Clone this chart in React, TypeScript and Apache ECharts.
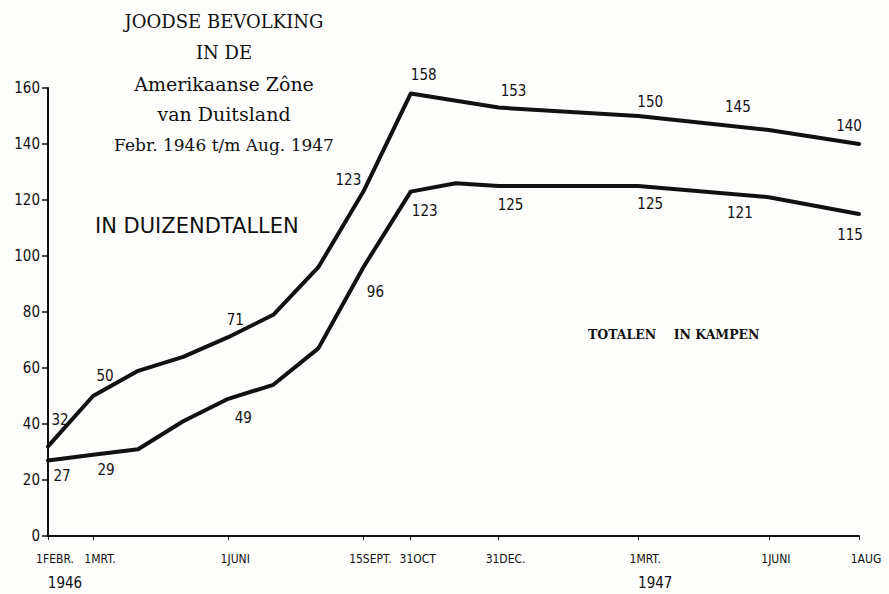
import React, { useEffect, useRef } from "react";
import * as echarts from "echarts";

// X axis: the original chart's horizontal scale is not strictly linear in time,
// so each date is given its position along the drawn axis (roughly in months).
const tickNames = ["1FEBR.", "1MRT.", "1JUNI", "15SEPT.", "31OCT", "31DEC.", "1MRT.", "1JUNI", "1AUG"];
const tickYears = ["1946", "", "", "", "", "", "1947", "", ""];
const tickPos = [0, 1, 4, 7, 8.05, 10, 13.1, 16, 18];

// Vertices of the two drawn lines (dates → axis position)
const vertexDates = ["1946-02-01", "1946-03-01", "1946-04-01", "1946-05-01", "1946-06-01", "1946-07-01", "1946-08-01", "1946-09-15", "1946-10-31", "1946-11-30", "1946-12-31", "1947-03-01", "1947-06-01", "1947-08-01"];
const vertexPos = [0, 1, 2, 3, 4, 5, 6, 7, 8.05, 9.05, 10, 13.1, 16, 18];

// Values in thousands
const totalen = [32, 50, 59, 64, 71, 79, 96, 123, 158, null, 153, 150, 145, 140];
const inKampen = [27, 29, 31, 41, 49, 54, 67, 96, 123, 126, 125, 125, 121, 115];

// Which vertices carry a printed number
const totalenPrinted = [true, true, false, false, true, false, false, true, true, false, true, true, true, true];
const kampenPrinted = [true, true, false, false, true, false, false, true, true, false, true, true, true, true];

const yMin = 0;
const yMax = 160;
const yStep = 20;

const titleLines = ["JOODSE BEVOLKING", "IN DE", "Amerikaanse Zône", "van Duitsland", "Febr. 1946 t/m Aug. 1947"];
const unitText = "IN DUIZENDTALLEN";
const legendText = "TOTALEN    IN KAMPEN";

// Label placement (style only): [dx, dy] from the point
const totalenLabelOffset: Record<number, number[]> = {
  0: [12, -26], 1: [12, -20], 4: [7, -17], 7: [-15, -12], 8: [13, -19],
  10: [15, -17], 11: [12, -14], 12: [-31, -23], 13: [-10, -18],
};
const kampenLabelOffset: Record<number, number[]> = {
  0: [14, 16], 1: [13, 15], 4: [15, 19], 7: [12, 25], 8: [14, 19],
  10: [12, 19], 11: [12, 18], 12: [-29, 16], 13: [-9, 21],
};

const numFont = "'DejaVu Sans Condensed', 'DejaVu Sans', sans-serif";
const serifFont = "'DejaVu Serif', 'Liberation Serif', serif";

function buildSeriesData(values: (number | null)[], printed: boolean[], offsets: Record<number, number[]>) {
  const out: any[] = [];
  values.forEach((v, i) => {
    if (v === null) return;
    const off = offsets[i] || [0, 0];
    out.push({
      value: [vertexPos[i], v],
      name: vertexDates[i],
      label: {
        show: printed[i],
        position: "inside",
        offset: off,
        formatter: String(v),
      },
    });
  });
  return out;
}

export default function App() {
  const ref = useRef<HTMLDivElement>(null);
  useEffect(() => {
    document.body.style.margin = "0";
    if (!ref.current) return;
    const chart = echarts.init(ref.current, undefined, { renderer: "svg" });
    const lineCommon = {
      type: "line",
      showSymbol: true,
      symbol: "circle",
      symbolSize: 1,
      itemStyle: { color: "#111" },
      lineStyle: { color: "#111", width: 4, join: "round", cap: "round" },
      label: { color: "#111", fontSize: 15, fontFamily: numFont },
      emphasis: { disabled: true },
      z: 3,
    };
    const option: any = {
      animation: false,
      backgroundColor: "#fdfdfc",
      grid: { left: 48, right: 30, top: 88, bottom: 58, containLabel: false },
      xAxis: {
        type: "value",
        min: tickPos[0],
        max: tickPos[tickPos.length - 1],
        splitLine: { show: false },
        axisLine: { show: true, onZero: false, lineStyle: { color: "#111", width: 2 } },
        axisTick: { show: true, customValues: tickPos, length: 4, lineStyle: { color: "#111", width: 1 } },
        axisLabel: {
          show: true,
          customValues: tickPos,
          margin: 17,
          hideOverlap: false,
          showMinLabel: true,
          showMaxLabel: true,
          formatter: (v: number) => {
            const i = tickPos.findIndex((p) => Math.abs(p - v) < 1e-6);
            if (i < 0) return "";
            const yr = tickYears[i];
            return yr ? `{d|${tickNames[i]}}\n{y|${yr}}` : `{d|${tickNames[i]}}`;
          },
          rich: {
            d: { fontSize: 12, fontFamily: numFont, color: "#111", padding: [0, 0, 0, 14] },
            y: { fontSize: 15, fontFamily: numFont, color: "#111", padding: [10, 0, 0, 34] },
          },
        },
      },
      yAxis: {
        type: "value",
        min: yMin,
        max: yMax,
        interval: yStep,
        splitLine: { show: false },
        axisLine: { show: true, lineStyle: { color: "#111", width: 2 } },
        axisTick: { show: true, length: 6, lineStyle: { color: "#111", width: 1.5 } },
        axisLabel: { fontSize: 15, fontFamily: numFont, color: "#111", margin: 8 },
      },
      series: [
        { ...lineCommon, name: "Totalen", data: buildSeriesData(totalen, totalenPrinted, totalenLabelOffset) },
        { ...lineCommon, name: "In kampen", data: buildSeriesData(inKampen, kampenPrinted, kampenLabelOffset) },
      ],
      graphic: [
        ...titleLines.map((t, i) => ({
          type: "text",
          x: 224,
          y: [21, 52, 84, 114, 145][i],
          style: {
            text: t,
            fill: "#111",
            fontSize: [18, 18, 19, 19, 17][i],
            fontFamily: serifFont,
            align: "center",
            verticalAlign: "middle",
          },
        })),
        {
          type: "text",
          x: 95,
          y: 226,
          style: {
            text: unitText,
            fill: "#111",
            fontSize: 21,
            fontFamily: "'DejaVu Sans', sans-serif",
            align: "left",
            verticalAlign: "middle",
          },
        },
        {
          type: "text",
          x: 588,
          y: 334,
          style: {
            text: legendText,
            fill: "#111",
            fontSize: 12.5,
            fontWeight: "bold",
            fontFamily: serifFont,
            align: "left",
            verticalAlign: "middle",
          },
        },
      ],
    };
    chart.setOption(option);
    return () => chart.dispose();
  }, []);
  return <div ref={ref} style={{ width: 889, height: 594 }} />;
}
